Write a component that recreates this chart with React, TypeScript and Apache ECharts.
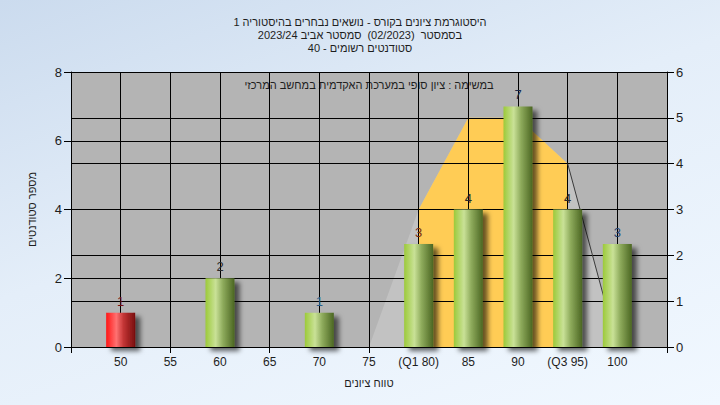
import React, { useEffect, useRef } from "react";
import * as echarts from "echarts";

const titleLines = [
  "היסטוגרמת ציונים בקורס - נושאים נבחרים בהיסטוריה 1",
  "בסמסטר  (02/2023)  סמסטר אביב 2023/24",
  "סטודנטים רשומים - 40",
];
const noteText = "במשימה : ציון סופי במערכת האקדמית במחשב המרכזי";
const xAxisName = "טווח ציונים";
const yAxisName = "מספר סטודנטים";

const gradeValues = [50, 60, 70, 80, 85, 90, 95, 100];
const studentCounts = [1, 2, 1, 3, 4, 7, 4, 3];
const labelColors = ["#7a1010", "#2a2a2a", "#2a5a8a", "#7a2a10", "#2a2a2a", "#1a2a4a", "#2a2a2a", "#1f3f6f"];
const failingGrades = [50];

const curveGrades = [75, 80, 85, 90, 95, 100];
const curveValues = [0, 3, 5, 5, 4, 0];
const q1Grade = 80;
const q3Grade = 95;

const xTickLabels: Record<number, string> = {
  50: "50", 55: "55", 60: "60", 65: "65", 70: "70", 75: "75",
  80: "(Q1 80)", 85: "85", 90: "90", 95: "(Q3 95)", 100: "100",
};
const xTickMarks = [45, 55, 65, 75, 105];

const FONT = "'Liberation Sans', Arial, 'DejaVu Sans', sans-serif";

const greenGrad = () =>
  new echarts.graphic.LinearGradient(0, 0, 1, 0, [
    { offset: 0, color: "#9cca3a" },
    { offset: 0.35, color: "#c9e197" },
    { offset: 0.6, color: "#8eab5c" },
    { offset: 1, color: "#4b6622" },
  ]);
const redGrad = () =>
  new echarts.graphic.LinearGradient(0, 0, 1, 0, [
    { offset: 0, color: "#ff1414" },
    { offset: 0.35, color: "#ff7272" },
    { offset: 0.6, color: "#c23434" },
    { offset: 1, color: "#780e0e" },
  ]);

export default function App() {
  const ref = useRef<HTMLDivElement>(null);
  useEffect(() => {
    if (!ref.current) return;
    const chart = echarts.init(ref.current, null, { renderer: "svg" });
    const curveData = curveGrades.map((g, i) => [g, curveValues[i]]);
    const innerData = curveData.filter((d) => d[0] >= q1Grade && d[0] <= q3Grade);
    const tailData = curveData.filter((d) => d[0] >= q3Grade);
    const barData = gradeValues.map((g, i) => ({
      value: [g, studentCounts[i]],
      itemStyle: { color: failingGrades.includes(g) ? redGrad() : greenGrad() },
      label: { color: labelColors[i] },
    }));
    chart.setOption({
      animation: false,
      textStyle: { fontFamily: FONT },
      title: {
        text: titleLines.join("\n"),
        left: "center",
        top: 11,
        textStyle: { fontSize: 11, fontWeight: "normal", color: "#1e1e1e", lineHeight: 12.7, fontFamily: FONT },
      },
      grid: {
        left: 71, right: 53, top: 72, bottom: 58,
        show: true, backgroundColor: "#b4b4b4", borderWidth: 0,
      },
      graphic: [
        {
          type: "text", x: 369, y: 85, z: 1,
          style: { text: noteText, fill: "#1e1e1e", font: `11px ${FONT}`, textAlign: "center", textVerticalAlign: "middle" },
        },
      ],
      xAxis: [
        {
          type: "value", min: 45, max: 105, interval: 5, z: 3,
          name: xAxisName, nameLocation: "middle", nameGap: 30,
          nameTextStyle: { fontSize: 11, color: "#1e1e1e" },
          axisLine: { show: true, lineStyle: { color: "#000", width: 1 } },
          axisTick: { show: false },
          axisLabel: {
            fontSize: 12, color: "#1e1e1e", margin: 9,
            formatter: (v: number) => xTickLabels[v] ?? "",
          },
          splitLine: { show: true, lineStyle: { color: "#000", width: 1 } },
        },
        {
          type: "value", min: 45, max: 105, interval: 5, z: 3, position: "bottom",
          axisLine: { show: false },
          axisTick: { show: true, length: 6, customValues: xTickMarks, lineStyle: { color: "#000" } },
          axisLabel: { show: false },
          splitLine: { show: false },
        },
      ],
      yAxis: [
        {
          type: "value", min: 0, max: 8, interval: 2, z: 3,
          name: yAxisName, nameLocation: "middle", nameGap: 34,
          nameTextStyle: { fontSize: 11, color: "#1e1e1e" },
          axisLine: { show: true, lineStyle: { color: "#000" } },
          axisTick: { show: true, length: 7, lineStyle: { color: "#000" } },
          axisLabel: { fontSize: 13, color: "#1e1e1e", margin: 9 },
          splitLine: { show: true, lineStyle: { color: "#000", width: 1 } },
        },
        {
          type: "value", min: 0, max: 6, interval: 1, z: 3, position: "right",
          axisLine: { show: true, lineStyle: { color: "#000" } },
          axisTick: { show: true, length: 7, lineStyle: { color: "#000" } },
          axisLabel: { fontSize: 13, color: "#1e1e1e", margin: 9 },
          splitLine: { show: true, lineStyle: { color: "#000", width: 1 } },
        },
      ],
      series: [
        {
          type: "line", yAxisIndex: 1, data: curveData, z: 1, symbol: "none",
          lineStyle: { width: 0 }, areaStyle: { color: "#c2c2c2", opacity: 1 },
        },
        {
          type: "line", yAxisIndex: 1, data: innerData, z: 1, symbol: "none",
          lineStyle: { width: 0 }, areaStyle: { color: "#ffcc55", opacity: 1 },
        },
        {
          type: "line", yAxisIndex: 1, data: tailData, z: 4, symbol: "none",
          lineStyle: { width: 1, color: "#3a3a3a" },
        },
        {
          type: "bar", yAxisIndex: 0, data: barData, barWidth: 29, z: 5,
          itemStyle: {
            shadowColor: "rgba(0,0,0,0.6)", shadowBlur: 5, shadowOffsetX: 5, shadowOffsetY: 4,
          },
          label: { show: true, position: "top", distance: 5, fontSize: 13, fontFamily: FONT },
        },
      ],
    });
    return () => chart.dispose();
  }, []);
  return (
    <div
      ref={ref}
      style={{
        position: "fixed", left: 0, top: 0, width: 720, height: 405,
        background: "linear-gradient(160deg, #cbdbee 0%, #e4eef9 45%, #f1f8ff 100%)",
      }}
    />
  );
}
